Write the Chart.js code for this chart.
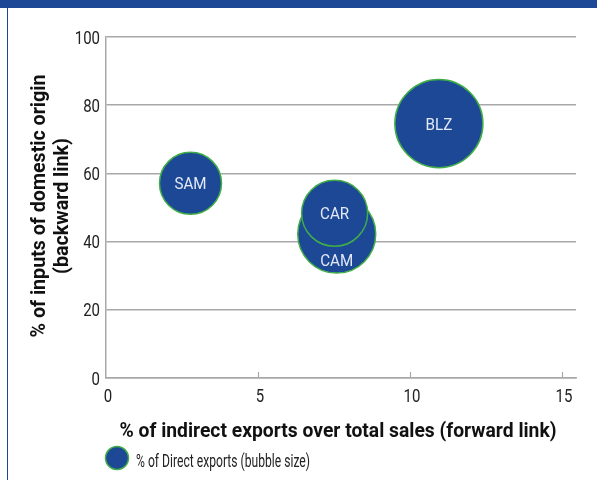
<!DOCTYPE html>
<html>
<head>
<meta charset="utf-8">
<script src="https://cdn.jsdelivr.net/npm/chart.js@4/dist/chart.umd.min.js"></script>
<style>
    html, body { margin: 0; padding: 0; background: #ffffff; }
    #wrap { width: 597px; height: 480px; position: relative; }
</style>
</head>
<body>
<div id="wrap"><canvas id="bubbleChart" width="597" height="480"></canvas></div>
<script>
// datos (orden de dibujo: CAM antes que CAR)
const regiones = ["SAM", "CAM", "CAR", "BLZ"];
const exportIndirecta = [2.78, 7.59, 7.52, 10.95];  // eje x
const insumosDomesticos = [57.1, 42.2, 48.3, 74.6]; // eje y
const exportDirecta = [9.6, 15.2, 10.9, 19.4];      // tamano de burbuja
const ticksX = [0, 5, 10, 15];
const ticksY = [0, 20, 40, 60, 80, 100];

const AZUL = "#1c4896";
const VERDE = "#41ad49";
const GRIS = "#a8a8a8";
const FUENTE = "Roboto, 'Liberation Sans', sans-serif";

(() => {
    const canvas = document.getElementById("bubbleChart");
    if (!canvas) {
        console.error("canvas no encontrado");
        return;
    }
    const ctx = canvas.getContext("2d");

    const radio = v => Math.sqrt(v) * 10;

    const puntos = regiones.map((r, i) => ({
        x: exportIndirecta[i],
        y: insumosDomesticos[i],
        r: radio(exportDirecta[i]),
        label: r
    }));

    // texto "condensado": se escala en horizontal
    function texto(c, str, x, y, font, sx, align) {
        c.save();
        c.translate(x, y);
        c.font = font;
        c.scale(sx, 1);
        c.textAlign = align;
        c.textBaseline = "alphabetic";
        c.fillText(str, 0, 0);
        c.restore();
    }

    // escala para que el texto ocupe un ancho dado
    function ajuste(c, str, font, ancho) {
        c.save();
        c.font = font;
        const w = c.measureText(str).width;
        c.restore();
        return ancho / w;
    }

    // marco, ticks, titulos, leyenda y etiquetas
    const extras = {
        id: "extras",
        beforeDraw(chart) {
            const c = chart.ctx;
            c.save();
            c.fillStyle = AZUL;
            c.fillRect(0, 0, chart.width, 8);
            c.fillRect(7, 8, 1, chart.height - 8);
            c.restore();
        },
        afterDraw(chart) {
            const c = chart.ctx;
            const xs = chart.scales.x;
            const ys = chart.scales.y;
            const area = chart.chartArea;
            c.save();

            // marcas del eje x hacia arriba
            c.strokeStyle = GRIS;
            c.lineWidth = 1.2;
            ticksX.slice(1).forEach(t => {
                const px = Math.round(xs.getPixelForValue(t)) + 0.5;
                c.beginPath();
                c.moveTo(px, area.bottom);
                c.lineTo(px, area.bottom - 6);
                c.stroke();
            });

            // etiquetas de los ejes
            const fTick = "18.5px " + FUENTE;
            c.fillStyle = "#222222";
            ticksY.forEach(t => {
                texto(c, String(t), 100, ys.getPixelForValue(t) + 6.5, fTick, 0.81, "right");
            });
            ticksX.forEach(t => {
                texto(c, String(t), xs.getPixelForValue(t) + 2, area.bottom + 24, fTick, 0.81, "center");
            });

            // etiquetas de burbujas
            const meta = chart.getDatasetMeta(0);
            c.fillStyle = "#e3e9f6";
            const fBur = "16.5px " + FUENTE;
            meta.data.forEach((el, i) => {
                const r = el.options.radius;
                let y = el.y;
                // si otra burbuja dibujada despues tapa el centro, bajar la etiqueta
                meta.data.slice(i + 1).forEach(o => {
                    const d = Math.hypot(o.x - el.x, o.y - el.y);
                    if (d < o.options.radius) {
                        y = (o.y + o.options.radius + el.y + r) / 2;
                    }
                });
                texto(c, puntos[i].label, el.x, y + 6, fBur, 0.92, "center");
            });

            // titulo eje x
            c.fillStyle = "#111111";
            const fTit = "bold 21px " + FUENTE;
            const tx = "% of indirect exports over total sales (forward link)";
            texto(c, tx, 338, 437, fTit, ajuste(c, tx, fTit, 437), "center");

            // titulo eje y
            const ty1 = "% of inputs of domestic origin";
            const ty2 = "(backward link)";
            const sy = ajuste(c, ty1, fTit, 263);
            c.save();
            c.translate(0, 206);
            c.rotate(-Math.PI / 2);
            texto(c, ty1, 0, 45, fTit, sy, "center");
            texto(c, ty2, 0, 68, fTit, sy, "center");
            c.restore();

            // leyenda
            c.beginPath();
            c.arc(117, 458, 11.5, 0, Math.PI * 2);
            c.fillStyle = AZUL;
            c.fill();
            c.strokeStyle = VERDE;
            c.lineWidth = 1.5;
            c.stroke();
            c.fillStyle = "#222222";
            const fLey = "18px " + FUENTE;
            const tl = "% of Direct exports (bubble size)";
            texto(c, tl, 136, 466.5, fLey, ajuste(c, tl, fLey, 174), "left");
            c.restore();
        }
    };

    new Chart(ctx, {
        type: "bubble",
        data: {
            datasets: [{
                label: "% of Direct exports (bubble size)",
                data: puntos,
                backgroundColor: AZUL,
                borderColor: VERDE,
                borderWidth: 1.5,
                hoverBorderWidth: 1.5
            }]
        },
        options: {
            responsive: false,
            animation: false,
            events: [],
            layout: { autoPadding: false, padding: { left: 8, right: 21, top: 37, bottom: 0 } },
            plugins: {
                legend: { display: false },
                tooltip: { enabled: false }
            },
            scales: {
                x: {
                    type: "linear",
                    min: 0,
                    max: 15.46,
                    afterFit: s => { s.height = 102; },
                    afterBuildTicks: s => { s.ticks = ticksX.map(v => ({ value: v })); },
                    grid: { display: true, drawOnChartArea: false, drawTicks: false },
                    border: { display: true, color: GRIS, width: 1.5 },
                    ticks: { display: false }
                },
                y: {
                    type: "linear",
                    min: 0,
                    max: 100,
                    afterFit: s => { s.width = 98; },
                    afterBuildTicks: s => { s.ticks = ticksY.map(v => ({ value: v })); },
                    grid: { color: GRIS, lineWidth: 1.5, drawTicks: false },
                    border: { display: true, color: GRIS, width: 1.5 },
                    ticks: { display: false }
                }
            }
        },
        plugins: [extras]
    });
})();
</script>
</body>
</html>
